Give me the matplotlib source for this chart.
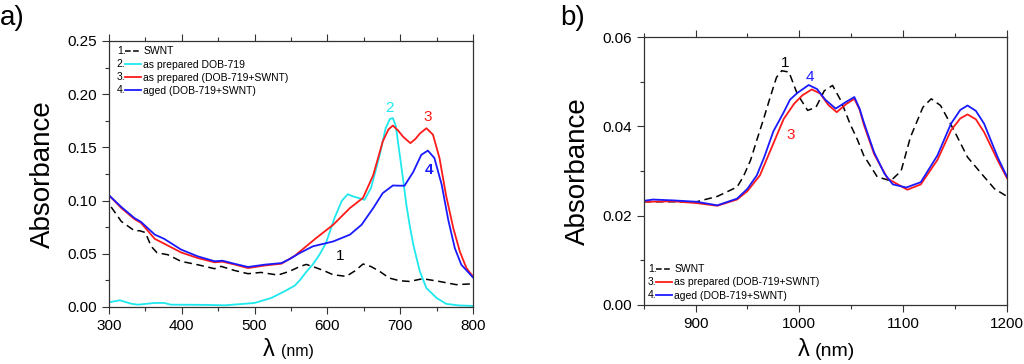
import matplotlib
matplotlib.use("Agg")
import matplotlib.pyplot as plt
from matplotlib.lines import Line2D
from matplotlib.text import Text
from matplotlib.legend_handler import HandlerBase
from matplotlib.ticker import MultipleLocator

plt.rcParams['font.family'] = ['Liberation Sans', 'DejaVu Sans']

# ---- panel a data (wavelength nm, absorbance) ----
a_swnt_x = [303, 317, 335, 342, 350, 358, 366, 381, 399, 422, 445, 454, 472, 491, 509, 532,
            548, 562, 571, 580, 594, 608, 626, 638, 649, 660, 672, 685, 699, 713, 731, 754,
            777, 800]
a_swnt_y = [0.094, 0.0804, 0.0717, 0.0717, 0.070, 0.057, 0.051, 0.0491, 0.0429, 0.0397, 0.036,
            0.0382, 0.0344, 0.0313, 0.0325, 0.030, 0.0335, 0.038, 0.040, 0.038, 0.0345, 0.0303,
            0.0288, 0.034, 0.0404, 0.038, 0.0334, 0.0272, 0.0247, 0.024, 0.0266, 0.024,
            0.021, 0.0218]

a_dob_x = [300, 315, 331, 340, 363, 376, 385, 431, 459, 486, 500, 523, 541, 555, 562, 571, 580,
           589, 598, 610, 620, 628, 635, 642, 651, 660, 672, 680, 686, 690, 694, 699, 704,
           708.5, 713, 718, 727, 736, 750, 763, 780, 800]
a_dob_y = [0.0044, 0.0063, 0.003, 0.0022, 0.0038, 0.0038, 0.0022, 0.002, 0.0016, 0.003, 0.0038,
           0.0085, 0.0147, 0.020, 0.025, 0.033, 0.040, 0.049, 0.060, 0.084, 0.100, 0.106,
           0.104, 0.1026, 0.1007, 0.112, 0.143, 0.168, 0.1768, 0.1775, 0.170, 0.145, 0.120,
           0.096, 0.077, 0.0585, 0.0334, 0.0178, 0.0085, 0.003, 0.0015, 0.001]

a_prep_x = [300, 317, 335, 344, 363, 376, 399, 422, 445, 456, 472, 491, 514, 537, 555, 562, 585,
            608, 631, 649, 663, 676, 684, 690, 697, 704, 714, 721, 727, 736, 745, 754, 763,
            773, 782, 791, 800]
a_prep_y = [0.105, 0.093, 0.0826, 0.079, 0.064, 0.0595, 0.0513, 0.046, 0.042, 0.0426, 0.040,
            0.0366, 0.039, 0.0407, 0.048, 0.052, 0.065, 0.0773, 0.093, 0.1026, 0.124, 0.1555,
            0.167, 0.1705, 0.166, 0.160, 0.154, 0.158, 0.163, 0.168, 0.162, 0.140, 0.105,
            0.074, 0.052, 0.0366, 0.0287]

a_aged_x = [300, 317, 335, 344, 363, 376, 399, 422, 445, 456, 472, 491, 514, 537, 548, 562, 580,
            608, 631, 647, 663, 676, 690, 699, 706, 718, 729, 738, 747, 757, 766, 775, 784, 800]
a_aged_y = [0.105, 0.094, 0.0836, 0.080, 0.068, 0.064, 0.054, 0.0476, 0.043, 0.0435, 0.0407,
            0.0376, 0.0398, 0.0413, 0.045, 0.0507, 0.057, 0.0616, 0.068, 0.0773, 0.093, 0.107,
            0.1142, 0.114, 0.114, 0.127, 0.143, 0.147, 0.140, 0.115, 0.082, 0.0554, 0.0397,
            0.0278]

# ---- panel b data ----
b_swnt_x = [850, 901, 921, 940, 946, 953, 959, 966, 972, 978, 983, 990, 998, 1008, 1016, 1024,
            1032, 1040, 1049, 1056, 1062, 1075, 1088, 1098, 1107, 1119, 1127, 1136, 1149, 1162,
            1178, 1188, 1200]
b_swnt_y = [0.0231, 0.0231, 0.0243, 0.0264, 0.0287, 0.0324, 0.0369, 0.042, 0.0466, 0.051,
            0.0525, 0.0522, 0.0473, 0.0436, 0.0443, 0.048, 0.0492, 0.0458, 0.0405, 0.037,
            0.0335, 0.0287, 0.0278, 0.030, 0.0376, 0.0443, 0.0462, 0.0447, 0.0391, 0.0331,
            0.0287, 0.026, 0.0243]

b_prep_x = [850, 879, 901, 921, 940, 950, 962, 979, 985, 995, 1003, 1012, 1020, 1028, 1036, 1045,
            1053, 1058, 1062, 1072, 1085, 1104, 1117, 1133, 1146, 1155, 1162, 1170, 1178, 1191,
            1200]
b_prep_y = [0.0231, 0.0232, 0.0228, 0.0222, 0.0236, 0.0255, 0.029, 0.0384, 0.0417, 0.0451,
            0.047, 0.0483, 0.0474, 0.0448, 0.0432, 0.045, 0.0462, 0.0438, 0.0405, 0.0338,
            0.0283, 0.0258, 0.027, 0.0325, 0.0391, 0.0418, 0.0427, 0.0416, 0.0387, 0.0324,
            0.0284]

b_aged_x = [850, 859, 879, 901, 921, 940, 950, 959, 966, 975, 985, 991, 998, 1009, 1017, 1025,
            1035, 1045, 1053, 1058, 1062, 1072, 1082, 1090, 1103, 1117, 1133, 1146, 1155, 1162,
            1170, 1178, 1191, 1200]
b_aged_y = [0.0233, 0.0236, 0.0234, 0.0231, 0.0223, 0.0238, 0.026, 0.029, 0.033, 0.0389,
            0.0432, 0.046, 0.0475, 0.0493, 0.0484, 0.046, 0.044, 0.0455, 0.0466, 0.044, 0.041,
            0.0342, 0.0294, 0.027, 0.0263, 0.0275, 0.0335, 0.0406, 0.0437, 0.0447, 0.0435,
            0.0406, 0.0331, 0.0287]

labels_a = ["SWNT", "as prepared DOB-719", "as prepared (DOB-719+SWNT)", "aged (DOB-719+SWNT)"]
labels_b = ["SWNT", "as prepared (DOB-719+SWNT)", "aged (DOB-719+SWNT)"]

CYAN = "#1ee8ee"
RED = "#ff1a1a"
BLUE = "#1a1aff"
DASH = (0, (5, 3))


class NumberedHandler(HandlerBase):
    # legend entry like "1.——"
    def __init__(self, num):
        super().__init__()
        self.num = num

    def create_artists(self, legend, orig_handle, xdescent, ydescent, width, height, fontsize, trans):
        y = height / 2 - ydescent
        t = Text(-xdescent, y, self.num, fontsize=fontsize, va="center", ha="left",
                 family=['Liberation Sans', 'DejaVu Sans'])
        t.set_transform(trans)
        ln = Line2D([-xdescent + width * 0.36, -xdescent + width], [y, y],
                    color=orig_handle.get_color(), linestyle=orig_handle.get_linestyle(),
                    linewidth=orig_handle.get_linewidth())
        ln.set_transform(trans)
        return [t, ln]


def style_axes(ax):
    for s in ax.spines.values():
        s.set_linewidth(0.9)
        s.set_color("#333333")
    ax.tick_params(which="both", direction="out", top=True, right=False, labelsize=11,
                   width=0.8, color="#333333")
    ax.tick_params(which="major", length=5)
    ax.tick_params(which="minor", length=3)


def lambda_label(ax, nm_size, ypos):
    ax.set_xlabel("λ", fontsize=17)
    ax.xaxis.set_label_coords(0.44, ypos)
    ax.annotate("(nm)", xy=(1, 0.08), xycoords=ax.xaxis.label, xytext=(4, 0),
                textcoords="offset points", fontsize=nm_size, va="bottom", ha="left")


fig = plt.figure(figsize=(10.24, 3.64), dpi=100)
ax1 = fig.add_axes([0.1064, 0.1566, 0.3555, 0.7308])
ax2 = fig.add_axes([0.6285, 0.1629, 0.3549, 0.7346])

# panel a
l1, = ax1.plot(a_swnt_x, a_swnt_y, color="black", ls=DASH, lw=1.1)
l2, = ax1.plot(a_dob_x, a_dob_y, color=CYAN, lw=1.3)
l3, = ax1.plot(a_prep_x, a_prep_y, color=RED, lw=1.3)
l4, = ax1.plot(a_aged_x, a_aged_y, color=BLUE, lw=1.3)
ax1.set_xlim(300, 800)
ax1.set_ylim(0, 0.25)
ax1.xaxis.set_major_locator(MultipleLocator(100))
ax1.xaxis.set_minor_locator(MultipleLocator(50))
ax1.yaxis.set_major_locator(MultipleLocator(0.05))
ax1.yaxis.set_minor_locator(MultipleLocator(0.025))
ax1.yaxis.set_major_formatter(lambda v, p: f"{v:.2f}")
style_axes(ax1)
ax1.set_ylabel("Absorbance", fontsize=20, labelpad=8)
lambda_label(ax1, 11.5, -0.12)

ax1.text(617, 0.048, "1", color="black", fontsize=11, ha="center", va="center")
ax1.text(685, 0.187, "2", color=CYAN, fontsize=11, ha="center", va="center")
ax1.text(738, 0.179, "3", color=RED, fontsize=11, ha="center", va="center")
ax1.text(740, 0.129, "4", color=BLUE, fontsize=11, ha="center", va="center", fontweight="bold")

ax1.legend([l1, l2, l3, l4], labels_a, loc="upper left", bbox_to_anchor=(0.01, 0.995),
           frameon=False, fontsize=7.5, handlelength=2.3, handletextpad=0.25,
           labelspacing=0.3, borderaxespad=0.2, borderpad=0.2,
           handler_map={l1: NumberedHandler("1."), l2: NumberedHandler("2."),
                        l3: NumberedHandler("3."), l4: NumberedHandler("4.")})

# panel b
m1, = ax2.plot(b_swnt_x, b_swnt_y, color="black", ls=DASH, lw=1.1)
m3, = ax2.plot(b_prep_x, b_prep_y, color=RED, lw=1.3)
m4, = ax2.plot(b_aged_x, b_aged_y, color=BLUE, lw=1.3)
ax2.set_xlim(850, 1200)
ax2.set_ylim(0, 0.06)
ax2.xaxis.set_major_locator(MultipleLocator(100))
ax2.xaxis.set_minor_locator(MultipleLocator(50))
ax2.yaxis.set_major_locator(MultipleLocator(0.02))
ax2.yaxis.set_minor_locator(MultipleLocator(0.01))
ax2.yaxis.set_major_formatter(lambda v, p: f"{v:.2f}")
style_axes(ax2)
ax2.set_ylabel("Absorbance", fontsize=20, labelpad=8)
lambda_label(ax2, 14, -0.13)

ax2.text(986, 0.0543, "1", color="black", fontsize=11, ha="center", va="center")
ax2.text(1010, 0.0512, "4", color=BLUE, fontsize=11, ha="center", va="center")
ax2.text(992, 0.038, "3", color=RED, fontsize=11, ha="center", va="center")

ax2.legend([m1, m3, m4], labels_b, loc="lower left", bbox_to_anchor=(0.0, 0.0),
           frameon=False, fontsize=7.5, handlelength=2.3, handletextpad=0.25,
           labelspacing=0.3, borderaxespad=0.2, borderpad=0.2,
           handler_map={m1: NumberedHandler("1."), m3: NumberedHandler("3."),
                        m4: NumberedHandler("4.")})

fig.text(0.0, 0.985, "a)", fontsize=20, ha="left", va="top")
fig.text(0.547, 0.985, "b)", fontsize=20, ha="left", va="top")

fig.savefig("out.png", dpi=100)
